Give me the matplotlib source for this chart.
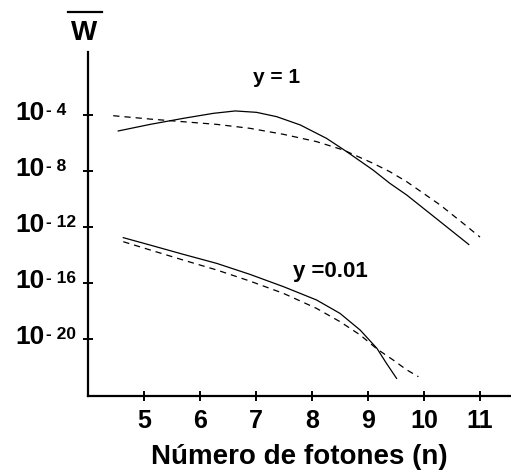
import numpy as np
import matplotlib.pyplot as plt
from matplotlib.lines import Line2D
from matplotlib.ticker import FixedLocator, NullFormatter

plt.rcParams['font.family'] = 'Liberation Sans'
plt.rcParams['font.weight'] = 'bold'

# y = 1 curves (x = n, value = log10 W)
n_y1_solid = [4.54, 5.11, 5.70, 6.24, 6.63, 7.01, 7.37, 7.79, 8.26, 8.62, 9.09, 9.39, 9.69, 10.29, 10.8]
w_y1_solid = [-5.14, -4.67, -4.24, -3.88, -3.71, -3.81, -4.12, -4.71, -5.67, -6.62, -7.93, -8.88, -9.71, -11.62, -13.25]
n_y1_dash = [4.45, 5.11, 5.70, 6.30, 6.89, 7.49, 8.08, 8.56, 9.09, 9.39, 9.69, 10.29, 10.7, 11.0]
w_y1_dash = [-4.05, -4.29, -4.48, -4.67, -4.95, -5.38, -5.9, -6.5, -7.45, -8.05, -8.76, -10.43, -11.74, -12.72]

# y = 0.01 curves
n_y001_solid = [4.63, 5.11, 5.70, 6.30, 6.89, 7.49, 8.08, 8.5, 8.86, 9.16, 9.33, 9.51]
w_y001_solid = [-12.76, -13.29, -13.95, -14.6, -15.38, -16.26, -17.21, -18.17, -19.36, -20.67, -21.74, -22.81]
n_y001_dash = [4.63, 5.11, 5.70, 6.30, 6.89, 7.49, 8.08, 8.5, 8.86, 9.16, 9.45, 9.69, 9.9]
w_y001_dash = [-13.05, -13.64, -14.36, -15.07, -15.86, -16.74, -17.81, -18.76, -19.71, -20.71, -21.5, -22.2, -22.69]

x_ticks = [5, 6, 7, 8, 9, 10, 11]
y_ticks = [-4, -8, -12, -16, -20]

fig = plt.figure(figsize=(5.11, 4.74), dpi=100)
ax = fig.add_axes([88/511, 1 - 396/474, 1 - 88/511, (396 - 52)/474])

ax.plot(n_y1_solid, w_y1_solid, color='black', lw=0.9)
ax.plot(n_y1_dash, w_y1_dash, color='black', lw=0.9, dashes=(5, 4))
ax.plot(n_y001_solid, w_y001_solid, color='black', lw=0.9)
ax.plot(n_y001_dash, w_y001_dash, color='black', lw=0.9, dashes=(5, 4))

ax.set_xlim(4, 4 + 423/56)
ax.set_ylim(-24.07, 0.5)

ax.spines['top'].set_visible(False)
ax.spines['right'].set_visible(False)
ax.spines['left'].set_linewidth(1.6)
ax.spines['bottom'].set_linewidth(1.6)

ax.xaxis.set_major_locator(FixedLocator(x_ticks))
ax.yaxis.set_major_locator(FixedLocator(y_ticks))
ax.yaxis.set_major_formatter(NullFormatter())
ax.tick_params(axis='x', direction='inout', length=7, width=1.4, labelsize=18, pad=6)
ax.tick_params(axis='y', direction='inout', length=7, width=1.4)

# y tick labels: "10" with small raised exponent, left aligned
for v in y_ticks:
    ax.annotate('10', xy=(0, v), xycoords=('axes fraction', 'data'),
                xytext=(-73*0.72, 2*0.72), textcoords='offset points',
                fontsize=19, fontweight='bold', ha='left', va='center')
    ax.annotate('- %d' % abs(v), xy=(0, v), xycoords=('axes fraction', 'data'),
                xytext=(-42*0.72, 12.5*0.72), textcoords='offset points',
                fontsize=12.5, fontweight='bold', ha='left', va='top')

ax.set_xlabel('Número de fotones (n)', fontsize=20, fontweight='bold', labelpad=8)

# W with overline
fig.text(84/511, 1 - 33/474, 'W', fontsize=20, fontweight='bold', ha='center', va='center')
fig.add_artist(Line2D([68/511, 102/511], [1 - 12/474, 1 - 12/474],
                      transform=fig.transFigure, color='black', lw=1.6))

ax.text(6.95, -1.71, 'y = 1', fontsize=15, fontweight='bold', ha='left', va='baseline')
ax.text(7.66, -15.57, 'y =0.01', fontsize=16, fontweight='bold', ha='left', va='baseline')

fig.savefig('out.png', dpi=100)
plt.close()
